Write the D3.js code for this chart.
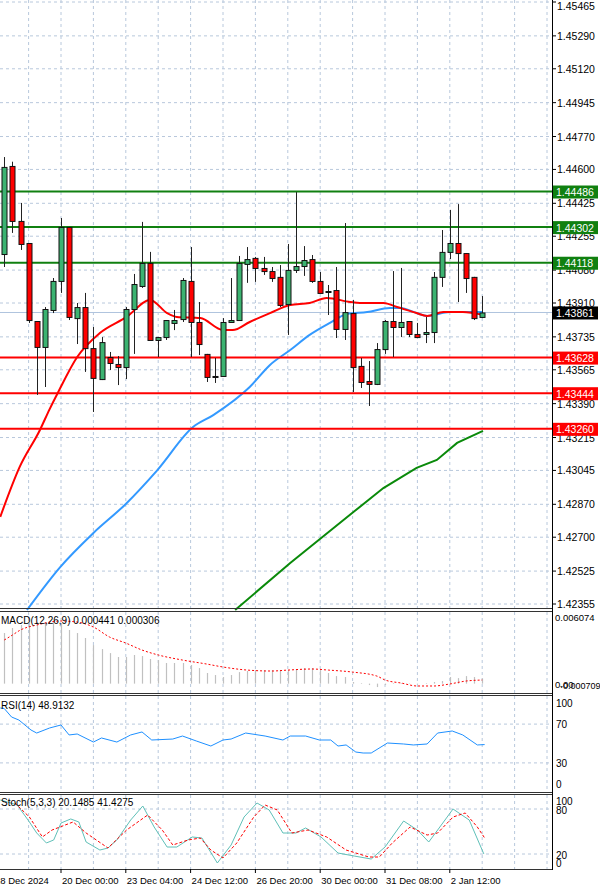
<!DOCTYPE html>
<html><head><meta charset="utf-8">
<script src="https://cdn.jsdelivr.net/npm/d3@7"></script>
<style>body{margin:0;background:#fff}svg{display:block}text{font-family:"Liberation Sans",Arial,sans-serif}</style>
</head><body>
<svg id="c" width="600" height="890"></svg>
<script>
// ---- DATA ----
const opens  = [1.44163,1.44618,1.44334,1.44220,1.43817,1.43683,1.43874,1.44024,1.44303,1.43832,1.43889,1.43677,1.43517,1.43631,1.43595,1.43579,1.43879,1.43998,1.44117,1.43719,1.43734,1.43807,1.43827,1.44024,1.43812,1.43647,1.43533,1.43533,1.43812,1.43822,1.44112,1.44143,1.44091,1.44075,1.44045,1.43905,1.44081,1.44101,1.44137,1.44024,1.43972,1.43977,1.43776,1.43858,1.43585,1.43507,1.43492,1.43672,1.43817,1.43786,1.43817,1.43750,1.43750,1.43760,1.44045,1.44174,1.44220,1.44168,1.44045,1.43838];
const highs  = [1.44664,1.44640,1.44427,1.44220,1.43817,1.43889,1.44039,1.44349,1.44303,1.43910,1.43962,1.43786,1.43734,1.43657,1.43636,1.43889,1.44060,1.44329,1.44174,1.43734,1.43822,1.43874,1.44039,1.44199,1.43915,1.43647,1.43626,1.43832,1.44039,1.44153,1.44199,1.44148,1.44148,1.44096,1.44106,1.44215,1.44483,1.44204,1.44158,1.44070,1.44003,1.44096,1.44323,1.43926,1.43626,1.43610,1.43703,1.43822,1.44075,1.44091,1.43817,1.43807,1.43838,1.44070,1.44287,1.44391,1.44421,1.44168,1.44045,1.43946];
const lows   = [1.44096,1.44272,1.44184,1.43807,1.43435,1.43476,1.43858,1.43962,1.43822,1.43698,1.43554,1.43347,1.43512,1.43564,1.43486,1.43517,1.43647,1.43988,1.43719,1.43631,1.43719,1.43770,1.43812,1.43631,1.43641,1.43502,1.43497,1.43533,1.43812,1.43822,1.44014,1.44019,1.44055,1.44019,1.43889,1.43745,1.44065,1.44050,1.44014,1.43962,1.43848,1.43729,1.43719,1.43450,1.43471,1.43378,1.43486,1.43647,1.43631,1.43734,1.43734,1.43729,1.43703,1.43703,1.43993,1.44137,1.43915,1.43962,1.43822,1.43832];
const closes = [1.44613,1.44334,1.44215,1.43822,1.43683,1.43879,1.44024,1.44303,1.43838,1.43889,1.43677,1.43523,1.43708,1.43600,1.43579,1.43879,1.44008,1.44117,1.43719,1.43734,1.43822,1.43822,1.44029,1.43812,1.43698,1.43528,1.43530,1.43812,1.43822,1.44117,1.44137,1.44091,1.44075,1.44039,1.43900,1.44081,1.44101,1.44132,1.44024,1.43962,1.43970,1.43776,1.43863,1.43579,1.43502,1.43492,1.43672,1.43817,1.43786,1.43812,1.43750,1.43734,1.43760,1.44045,1.44174,1.44220,1.44168,1.44039,1.43832,1.43861];

const maRedIdx  = [-0.5,1.9,4.4,5.6,6.6,9,11.8,15.1,18,20.1,21.3,24.2,27,28.2,30.3,32.8,35.3,37.7,39.8,42.7,43.9,46.8,48.5,50.9,52.2,54.2,56.6,59.1];
const maRedVal  = [1.42805,1.43063,1.43254,1.43362,1.43445,1.43631,1.43755,1.43838,1.43926,1.43858,1.43838,1.43832,1.43770,1.43770,1.43812,1.43858,1.43900,1.43910,1.43936,1.43915,1.43910,1.43910,1.43889,1.43858,1.43843,1.43863,1.43863,1.43848];
const maBlueIdx = [2.8,6.9,11,15,18.9,23.3,25.8,30.3,32.8,35.3,37.7,40.2,42.3,44.8,47.6,48.9,50.9,52.2,55,59.1];
const maBlueVal = [1.42324,1.42546,1.42722,1.42872,1.43047,1.43269,1.43331,1.43476,1.43590,1.43667,1.43745,1.43807,1.43853,1.43863,1.43884,1.43884,1.43858,1.43843,1.43863,1.43863];
const maGreenIdx = [28.5,35.3,43.1,46.8,50.9,53.4,55.9,59.1];
const maGreenVal = [1.42324,1.42567,1.42830,1.42954,1.43058,1.43099,1.43187,1.43249];

const resistance = [1.44486,1.44302,1.44118];
const support    = [1.43628,1.43444,1.43260];
const lastPrice  = 1.43861;
const priceTicks = ["1.45465","1.45290","1.45120","1.44945","1.44770","1.44600","1.44425","1.44255","1.44080","1.43910","1.43735","1.43565","1.43390","1.43215","1.43045","1.42870","1.42700","1.42525","1.42355"];

const macdHist = [0.00429,0.00472,0.00497,0.00514,0.00522,0.00522,0.00522,0.00514,0.00455,0.00429,0.00387,0.00327,0.00293,0.00259,0.00226,0.00226,0.00243,0.00234,0.00209,0.00200,0.00175,0.00175,0.00175,0.00158,0.00132,0.00090,0.00073,0.00056,0.00073,0.00098,0.00107,0.00115,0.00115,0.00115,0.00115,0.00115,0.00124,0.00132,0.00132,0.00115,0.00090,0.00064,0.00056,0.00014,0.00005,-0.00012,-0.00029,-0.00012,0.00005,0.00005,-0.00003,-0.00003,0.00005,0.00014,0.00022,0.00056,0.00047,0.00064,0.00056,0.000441];
const macdSigIdx = [0,1,2,4,7,9,11,13,15,17,19,22,25,27,30,33,35,38,40,43,46,47,49,51,53,55,57,59];
const macdSigVal = [0.00370,0.00412,0.00455,0.00497,0.00531,0.00522,0.00480,0.00395,0.00344,0.00285,0.00243,0.00200,0.00166,0.00141,0.00115,0.00107,0.00115,0.00124,0.00115,0.00098,0.00064,0.00031,0.00005,-0.00020,-0.00020,-0.00003,0.00022,0.000306];

const rsiIdx = [-0.5,0,0.9,1.8,3.3,4,5.6,7,8,9,11,12,13.9,15.6,17,18.2,20.8,22,23.7,25.5,27,28,29.8,32.2,34.4,35.3,37.2,38.9,40.3,41.2,42.2,43.4,44.3,45.3,47.3,49.3,50.5,52.2,53.5,55.3,56.6,58.4,59.3];
const rsiVal = [86.6,86,77.3,74.2,63.9,60.8,66,69.1,58.8,59.8,51.5,55.7,51.5,58.8,61.9,53.6,54.6,57.7,52.6,47.4,53.6,54.6,60.8,57.7,53.6,57.7,57.7,53.6,53.6,47.4,48.5,41.2,40.2,40.2,50.5,49.5,48.5,49.5,60.8,62.9,58.8,48.5,48.9];

const stKIdx = [-0.5,0.4,1.6,3.1,4,5.2,6.1,7,8.2,9.2,10.1,11.8,12.8,13.9,15.6,17.1,18.5,20.1,21.3,23.2,24.4,26.3,28,29.6,31.2,32.7,34.4,36,37.2,39.1,41.2,43.2,45.3,47,49.3,51,52.4,53.5,55.4,57.4,59.2];
const stKVal = [92,89.3,85.3,62.7,48,34.7,38.7,61.3,66.7,62.7,36,25.3,28,38.7,65.3,84,56,29.3,29.3,42.7,41.3,8,32,69.3,88,78.7,48,48,54.7,42.7,21.3,17.3,13.3,29.3,64,52,36,52,80,65.3,20.1];
const stDIdx = [1.3,3.1,4.7,5.9,8.5,10.1,12.8,15.1,17.7,19.5,20.8,22.7,24.2,25.5,27,28.7,30.8,32.2,33.7,35.5,37.5,39.8,42.2,45,46.3,47.9,50.1,52.2,53.5,55.4,56.9,58.4,59.3];
const stDVal = [88,69.3,42.7,52,62.7,48,28,52,72,52,32,38.7,41.3,25.3,14.7,34.7,69.3,85.3,78.7,48,52,42.7,25.3,16,16,34.7,56,45.3,48,69.3,74.7,56,41.4];

const timeLabels = ["18 Dec 2024","20 Dec 00:00","23 Dec 04:00","24 Dec 12:00","26 Dec 20:00","30 Dec 00:00","31 Dec 08:00","2 Jan 12:00"];
const timeLabelIdx = [-1,7,15,23,31,39,47,55];

// ---- LAYOUT ----
const svg = d3.select("#c");
const R = 552;
const x = d3.scaleLinear().domain([0,1]).range([4.3,12.4]);
const yP = d3.scaleLinear().domain([1.42355,1.45465]).range([604,2]);
const yM = d3.scaleLinear().domain([-0.000709,0.006074]).range([692,612]);
const yR = d3.scaleLinear().domain([0,100]).range([792,695]);
const yS = d3.scaleLinear().domain([0,100]).range([869,794]);
const panels = [[0,609],[612,693],[696,792],[795,869]];
const gridC = "#b8c8dc";

const vIdx = d3.range(3,68,4);
panels.forEach(([t,b])=>{
  svg.append("g").selectAll("line").data(vIdx).join("line")
    .attr("x1",d=>x(d)).attr("x2",d=>x(d)).attr("y1",t).attr("y2",b)
    .attr("stroke",gridC).attr("stroke-dasharray","3,3");
});
svg.append("g").selectAll("line").data(priceTicks).join("line")
  .attr("x1",0).attr("x2",R).attr("y1",d=>yP(+d)).attr("y2",d=>yP(+d))
  .attr("stroke",gridC).attr("stroke-dasharray","3,3");
[[yR,70],[yR,30],[yS,80],[yS,20]].forEach(([s,v])=>svg.append("line").attr("x1",0).attr("x2",R)
  .attr("y1",s(v)).attr("y2",s(v)).attr("stroke",gridC).attr("stroke-dasharray","3,3"));

svg.append("line").attr("x1",0).attr("x2",R).attr("y1",yP(lastPrice)).attr("y2",yP(lastPrice)).attr("stroke","#b0c4de");

const line = (ix,vals,ys,c)=>d3.line().x((d,i)=>x(ix[i])).y(d=>ys(d)).curve(c||d3.curveMonotoneX)(vals);
svg.append("path").attr("d",line(maGreenIdx,maGreenVal,yP,d3.curveLinear)).attr("fill","none").attr("stroke","#0a8a0a").attr("stroke-width",2);
svg.append("path").attr("d",line(maBlueIdx,maBlueVal,yP)).attr("fill","none").attr("stroke","#3399ff").attr("stroke-width",2);
svg.append("path").attr("d",line(maRedIdx,maRedVal,yP)).attr("fill","none").attr("stroke","#ff0000").attr("stroke-width",2);

svg.append("g").selectAll("line").data(resistance).join("line")
  .attr("x1",0).attr("x2",R).attr("y1",d=>yP(d)).attr("y2",d=>yP(d)).attr("stroke","#108010").attr("stroke-width",2);
svg.append("g").selectAll("line").data(support).join("line")
  .attr("x1",0).attr("x2",R).attr("y1",d=>yP(d)).attr("y2",d=>yP(d)).attr("stroke","#ff0000").attr("stroke-width",2);

const idx = d3.range(opens.length);
const cg = svg.append("g");
cg.selectAll("line").data(idx).join("line")
  .attr("x1",i=>Math.round(x(i))+0.5).attr("x2",i=>Math.round(x(i))+0.5)
  .attr("y1",i=>yP(highs[i])).attr("y2",i=>yP(lows[i])).attr("stroke","#222");
cg.selectAll("rect").data(idx).join("rect")
  .attr("x",i=>Math.round(x(i))-2).attr("width",5)
  .attr("y",i=>yP(Math.max(opens[i],closes[i]))+0.5)
  .attr("height",i=>Math.max(1,Math.abs(yP(opens[i])-yP(closes[i]))))
  .attr("fill",i=>closes[i]>=opens[i]?"#3cb371":"#ff0000").attr("stroke","#111").attr("stroke-width",1);

svg.append("g").selectAll("line").data(macdHist).join("line")
  .attr("x1",(d,i)=>Math.round(x(i))+0.5).attr("x2",(d,i)=>Math.round(x(i))+0.5)
  .attr("y1",yM(0)).attr("y2",d=>yM(d)).attr("stroke","#c0c0c0").attr("stroke-width",1.2);
svg.append("path").attr("d",line(macdSigIdx,macdSigVal,yM)).attr("fill","none").attr("stroke","#ff0000").attr("stroke-dasharray","2,2");
svg.append("path").attr("d",d3.line().x((d,i)=>x(rsiIdx[i])).y(d=>yR(d))(rsiVal)).attr("fill","none").attr("stroke","#1e90ff");
svg.append("path").attr("d",d3.line().x((d,i)=>x(stKIdx[i])).y(d=>yS(d))(stKVal)).attr("fill","none").attr("stroke","#5fc0b8");
svg.append("path").attr("d",d3.line().x((d,i)=>x(stDIdx[i])).y(d=>yS(d))(stDVal)).attr("fill","none").attr("stroke","#ff0000").attr("stroke-dasharray","3,2");

svg.append("line").attr("x1",R+0.5).attr("x2",R+0.5).attr("y1",0).attr("y2",870).attr("stroke","#000");
[[608,611],[693,695],[792,794]].forEach(([a,b])=>{
  svg.append("line").attr("x1",0).attr("x2",R).attr("y1",a+0.5).attr("y2",a+0.5).attr("stroke","#333");
  svg.append("line").attr("x1",0).attr("x2",R).attr("y1",b+0.5).attr("y2",b+0.5).attr("stroke","#333");
});
svg.append("line").attr("x1",0).attr("x2",R).attr("y1",869.5).attr("y2",869.5).attr("stroke","#333");

const ax = svg.append("g");
priceTicks.forEach(t=>{
  const y=yP(+t);
  ax.append("line").attr("x1",R).attr("x2",R+4).attr("y1",y).attr("y2",y).attr("stroke","#000");
  ax.append("text").attr("x",R+5).attr("y",Math.max(y+4,10)).attr("font-size",10.5).attr("fill","#000").text(t);
});
const lab=(v,fill,tc)=>{const y=yP(v);
  ax.append("rect").attr("x",R+1).attr("y",y-6).attr("width",45).attr("height",13).attr("fill",fill);
  ax.append("text").attr("x",R+4).attr("y",y+4.5).attr("font-size",10.5).attr("fill",tc).text(v.toFixed(5));};
resistance.forEach(v=>lab(v,"#108010","#fff"));
support.forEach(v=>lab(v,"#ff0000","#fff"));
lab(lastPrice,"#000","#fff");

const t=(xx,yy,s,fs,a)=>svg.append("text").attr("x",xx).attr("y",yy).attr("font-size",fs||10).attr("fill","#000").attr("text-anchor",a||"start").text(s);
t(R+3,621,"0.006074",9.5); t(R+3,688,"0.00",9.5); t(R+8,689,"-0.000709",9);
t(R+4,707,"100"); t(R+4,728,"70"); t(R+4,767,"30"); t(R+4,788,"0");
t(R+4,805,"100"); t(R+4,814,"80"); t(R+4,859,"20"); t(R+4,867,"0");
t(1,624,"MACD(12,26,9) 0.000441 0.000306");
t(1,709,"RSI(14) 48.9132");
t(1,806,"Stoch(5,3,3) 20.1485 41.4275");

timeLabels.forEach((s,i)=>{
  const xx=x(timeLabelIdx[i]);
  svg.append("line").attr("x1",xx).attr("x2",xx).attr("y1",869).attr("y2",873).attr("stroke","#000");
  t(i===0?-5:xx+1,884,s,9.5);
});
</script>
</body></html>
